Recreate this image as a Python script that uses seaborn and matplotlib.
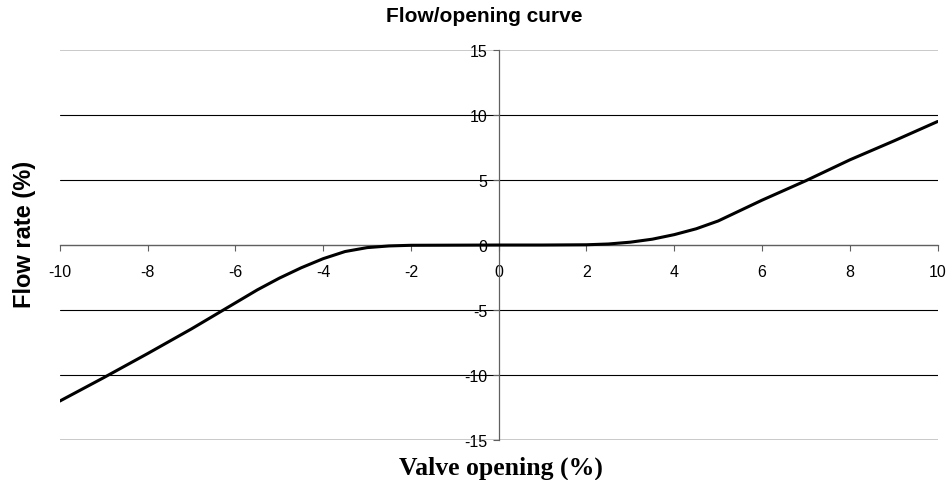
import numpy as np
import pandas as pd
import seaborn as sns
import matplotlib.pyplot as plt

# valve opening (%) vs flow rate (%)
opening = [-10, -9, -8, -7, -6, -5.5, -5, -4.5, -4, -3.5, -3, -2.5, -2, -1, 0,
           1, 2, 2.5, 3, 3.5, 4, 4.5, 5, 5.5, 6, 6.5, 7, 7.5, 8, 9, 10]
flow = [-12.0, -10.2, -8.35, -6.45, -4.45, -3.45, -2.55, -1.75, -1.05, -0.5, -0.2, -0.07, -0.02, -0.01, 0.0,
        0.0, 0.02, 0.08, 0.22, 0.45, 0.8, 1.25, 1.85, 2.65, 3.45, 4.2, 4.95, 5.75, 6.55, 8.0, 9.5]

x_ticks = [-10, -8, -6, -4, -2, 0, 2, 4, 6, 8, 10]
y_ticks = [-15, -10, -5, 0, 5, 10, 15]

df = pd.DataFrame({'opening': opening, 'flow': flow})

sns.set_style('white')
plt.rcParams['font.family'] = ['Liberation Sans', 'DejaVu Sans']
plt.rcParams['axes.unicode_minus'] = False
plt.rcParams['text.color'] = 'black'
plt.rcParams['axes.labelcolor'] = 'black'
plt.rcParams['xtick.color'] = 'black'
plt.rcParams['ytick.color'] = 'black'

fig = plt.figure(figsize=(9.49, 4.81), dpi=100)
ax = fig.add_axes([0.063, 0.083, 0.925, 0.811])

sns.lineplot(data=df, x='opening', y='flow', color='black', lw=2.2, ax=ax, zorder=5)

ax.set_xlim(-10, 10)
ax.set_ylim(-15, 15)
ax.set_xticks(x_ticks)
ax.set_yticks(y_ticks)
ax.tick_params(axis='both', bottom=True, left=True, labelsize=11.5, length=4, width=0.8,
               color='#606060', labelcolor='black', direction='out')
ax.tick_params(axis='x', pad=10)
ax.tick_params(axis='y', pad=4)

# axes cross at the origin like the spreadsheet chart
for s in ['top', 'right']:
    ax.spines[s].set_visible(False)
ax.spines['left'].set_position(('data', 0))
ax.spines['bottom'].set_position(('data', 0))
for s in ['left', 'bottom']:
    ax.spines[s].set_color('#606060')
    ax.spines[s].set_linewidth(0.9)

ax.yaxis.grid(True, color='black', lw=0.8)
ax.xaxis.grid(False)
gl = ax.yaxis.get_gridlines()
for i, t in enumerate(y_ticks):
    if abs(t) == 15:
        gl[i].set_color('#c0c0c0')
        gl[i].set_linewidth(1.2)

ax.set_xlabel('Valve opening (%)', fontsize=18.5, fontweight='bold', family=['Liberation Serif'])
ax.xaxis.set_label_coords(0.503, -0.04)
ax.xaxis.label.set_va('top')
ax.set_ylabel('Flow rate (%)', fontsize=17, fontweight='bold')
ax.yaxis.set_label_coords(-0.04, 0.53)
ax.yaxis.label.set_va('center')

fig.text(0.51, 1 - 16 / 481, 'Flow/opening curve', ha='center', va='center', fontsize=15, fontweight='bold')

fig.savefig('out.png', dpi=100)
